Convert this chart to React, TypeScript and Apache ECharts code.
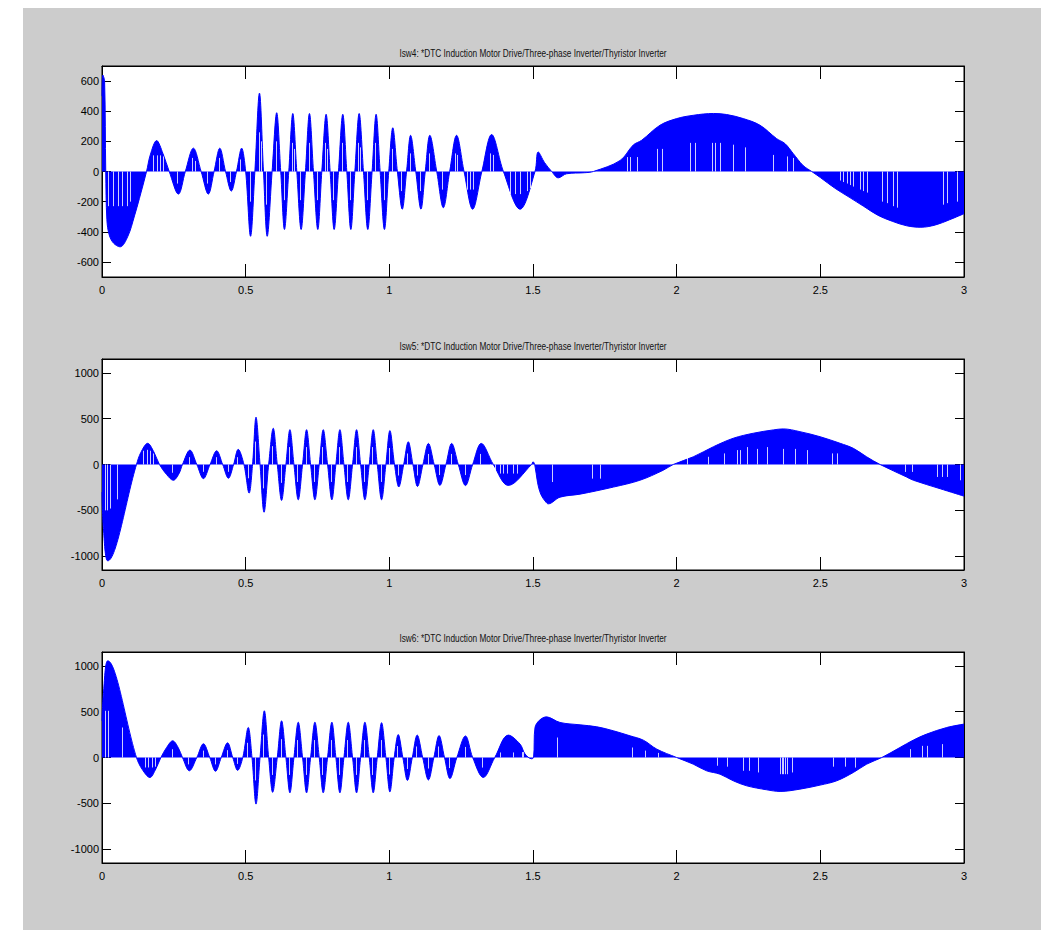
import React, { useEffect, useRef } from "react";
import * as echarts from "echarts";

const titles = [
  "Isw4: *DTC Induction Motor Drive/Three-phase Inverter/Thyristor Inverter",
  "Isw5: *DTC Induction Motor Drive/Three-phase Inverter/Thyristor Inverter",
  "Isw6: *DTC Induction Motor Drive/Three-phase Inverter/Thyristor Inverter",
];

const xTicks = [0, 0.5, 1, 1.5, 2, 2.5, 3];
const yTicks4 = [-600, -400, -200, 0, 200, 400, 600];
const yTicks56 = [-1000, -500, 0, 500, 1000];
const yRange4 = [-700, 700];
const yRange56 = [-1150, 1150];

// envelope of switched current Isw4 [time s, current A]
const isw4: [number, number][] = [
  [0, 500], [0.003, 640], [0.009, 600], [0.013, 0], [0.017, -320], [0.025, -420], [0.04, -475],
  [0.063, -500], [0.09, -430], [0.113, -295], [0.13, -180], [0.155, 0],
  [0.168, 110], [0.19, 205], [0.212, 120], [0.234, 0],
  [0.266, -150], [0.29, 0], [0.318, 155], [0.345, 0], [0.37, -150], [0.39, 0],
  [0.41, 155], [0.43, 0], [0.45, -130], [0.468, 0], [0.486, 155], [0.5, 0],
  [0.517, -430], [0.532, 0], [0.548, 520], [0.562, 0], [0.575, -430], [0.592, 0],
  [0.608, 390], [0.622, 0], [0.635, -385], [0.65, 0], [0.664, 385], [0.678, 0],
  [0.693, -385], [0.708, 0], [0.722, 385], [0.736, 0], [0.751, -385], [0.765, 0],
  [0.78, 380], [0.794, 0], [0.808, -385], [0.823, 0], [0.838, 380], [0.852, 0],
  [0.866, -385], [0.88, 0], [0.895, 385], [0.91, 0], [0.925, -385], [0.94, 0],
  [0.954, 380], [0.968, 0], [0.983, -385], [0.998, 0], [1.012, 290], [1.028, 0],
  [1.045, -250], [1.06, 0], [1.074, 240], [1.092, 0], [1.11, -250], [1.125, 0],
  [1.141, 240], [1.165, 0], [1.188, -240], [1.21, 0], [1.234, 240], [1.26, 0],
  [1.29, -250], [1.322, 0], [1.356, 245], [1.397, 0], [1.455, -250], [1.507, 0],
  [1.518, 130], [1.54, 60], [1.565, 0], [1.588, -42], [1.617, -15], [1.68, -8],
  [1.71, 0], [1.803, 73], [1.849, 176], [1.878, 207], [1.942, 307], [2.0, 351],
  [2.058, 373], [2.128, 385], [2.174, 378], [2.232, 351], [2.29, 307], [2.348, 218],
  [2.377, 185], [2.406, 118], [2.44, 40], [2.47, 0], [2.5, -40], [2.55, -110],
  [2.6, -170], [2.65, -230], [2.7, -290], [2.75, -330], [2.8, -360], [2.85, -370],
  [2.9, -355], [2.95, -320], [3.0, -280],
];

// envelope of switched current Isw5
const isw5: [number, number][] = [
  [0, -300], [0.005, -700], [0.02, -1050], [0.12, 0],
  [0.135, 130], [0.159, 231], [0.18, 140], [0.2, 0],
  [0.225, -110], [0.248, -172], [0.268, -100], [0.28, 0],
  [0.306, 157], [0.33, 0], [0.353, -154], [0.376, 0], [0.399, 150], [0.42, 0],
  [0.44, -150], [0.458, 0], [0.474, 165], [0.494, 0], [0.512, -312], [0.524, 0],
  [0.536, 516], [0.55, 0], [0.564, -520], [0.58, 0], [0.596, 395], [0.61, 0],
  [0.625, -392], [0.64, 0], [0.654, 380], [0.668, 0], [0.683, -385], [0.698, 0],
  [0.712, 380], [0.726, 0], [0.741, -385], [0.756, 0], [0.77, 380], [0.785, 0],
  [0.8, -385], [0.814, 0], [0.828, 380], [0.842, 0], [0.857, -385], [0.872, 0],
  [0.886, 380], [0.9, 0], [0.915, -385], [0.93, 0], [0.944, 380], [0.958, 0],
  [0.973, -385], [0.988, 0], [1.002, 370], [1.018, 0], [1.033, -245], [1.05, 0],
  [1.066, 248], [1.082, 0], [1.098, -240], [1.117, 0], [1.136, 230], [1.156, 0],
  [1.176, -228], [1.197, 0], [1.217, 230], [1.24, 0], [1.265, -230], [1.29, 0],
  [1.32, 230], [1.362, 0], [1.414, -228], [1.495, 0], [1.5, 30], [1.506, 0],
  [1.516, -200], [1.528, -330], [1.545, -410], [1.553, -429], [1.594, -356],
  [1.664, -323], [1.78, -246], [1.872, -172], [1.953, -63], [1.988, 0],
  [2.058, 84], [2.128, 194], [2.197, 286], [2.267, 341], [2.336, 377], [2.371, 388],
  [2.429, 358], [2.499, 303], [2.569, 231], [2.615, 176], [2.661, 84], [2.708, 0],
  [2.8, -136], [2.824, -172], [2.917, -264], [3.0, -345],
];

// envelope of switched current Isw6
const isw6: [number, number][] = [
  [0, 400], [0.005, 700], [0.02, 1054], [0.12, 0],
  [0.14, -130], [0.167, -218], [0.185, -140], [0.205, 0],
  [0.225, 110], [0.246, 182], [0.265, 110], [0.28, 0],
  [0.304, -145], [0.33, 0], [0.353, 150], [0.375, 0], [0.395, -150], [0.415, 0],
  [0.437, 160], [0.455, 0], [0.472, -140], [0.49, 0], [0.509, 327], [0.522, 0],
  [0.536, -508], [0.55, 0], [0.565, 509], [0.58, 0], [0.594, -380], [0.61, 0],
  [0.625, 400], [0.64, 0], [0.654, -385], [0.668, 0], [0.683, 385], [0.698, 0],
  [0.712, -385], [0.726, 0], [0.741, 385], [0.756, 0], [0.77, -385], [0.785, 0],
  [0.8, 385], [0.814, 0], [0.828, -385], [0.842, 0], [0.857, 385], [0.872, 0],
  [0.886, -385], [0.9, 0], [0.915, 385], [0.93, 0], [0.944, -385], [0.958, 0],
  [0.973, 380], [0.988, 0], [1.002, -375], [1.017, 0], [1.031, 250], [1.047, 0],
  [1.063, -250], [1.08, 0], [1.097, 245], [1.116, 0], [1.136, -245], [1.155, 0],
  [1.173, 240], [1.192, 0], [1.211, -230], [1.235, 0], [1.265, 235], [1.29, 0],
  [1.327, -218], [1.367, 0], [1.414, 244], [1.455, 146], [1.472, 40], [1.495, -14],
  [1.502, 0], [1.507, 327], [1.547, 443], [1.594, 382], [1.664, 356], [1.722, 335],
  [1.78, 291], [1.838, 236], [1.884, 189], [1.931, 91], [2.0, 0],
  [2.058, -73], [2.104, -145], [2.151, -182], [2.197, -254], [2.244, -309],
  [2.313, -352], [2.36, -370], [2.429, -345], [2.499, -301], [2.557, -254],
  [2.615, -163], [2.661, -73], [2.714, 0], [2.777, 109], [2.824, 190], [2.87, 255],
  [2.94, 327], [3.0, 364],
];

// switching gaps (current briefly zero) seen as thin white lines [time s, reach A]
const gaps4: [number, number][] = [
  [0.022, -230], [0.039, -230], [0.057, -230], [0.068, -230], [0.086, -230], [0.097, -200],
  [0.179, 107], [0.19, 107], [0.202, 107], [0.214, 100],
  [0.262, -80], [0.314, 90], [0.322, 70], [0.366, -80], [0.406, 90], [0.447, -70],
  [0.482, 80], [0.514, -200], [0.545, 260], [0.552, 200], [0.572, -220], [0.605, 200],
  [0.632, -190], [0.661, 190], [0.667, 150], [0.69, -190], [0.719, 190], [0.748, -190],
  [0.777, 190], [0.783, 150], [0.805, -190], [0.835, 190], [0.863, -190], [0.892, 190],
  [0.898, 160], [0.922, -190], [0.951, 190], [0.98, -190], [1.009, 150], [1.042, -130],
  [1.071, 120], [1.107, -130], [1.138, 120], [1.185, -120], [1.23, 120], [1.237, 110],
  [1.269, -120], [1.281, -120], [1.292, -120], [1.35, 120], [1.36, 110],
  [1.42, -150], [1.437, -150], [1.455, -150], [1.478, -130], [1.49, -110],
  [1.826, 96], [1.838, 96], [1.861, 96], [1.93, 150], [1.948, 150], [2.047, 190],
  [2.064, 190], [2.122, 190], [2.133, 190], [2.151, 190], [2.197, 178], [2.238, 160],
  [2.336, 110], [2.383, 100], [2.406, 90],
  [2.568, -60], [2.58, -70], [2.592, -80], [2.603, -90], [2.615, -100], [2.638, -120],
  [2.65, -130], [2.661, -140], [2.714, -200], [2.731, -210], [2.754, -230], [2.766, -240],
  [2.928, -220], [2.94, -210], [2.974, -200],
];

const gaps5: [number, number][] = [
  [0.01, -500], [0.016, -500], [0.028, -480], [0.051, -380],
  [0.144, 150], [0.156, 160], [0.167, 150], [0.179, 120], [0.245, -90], [0.303, 80],
  [0.35, -80], [0.396, 80], [0.437, -80], [0.471, 80], [0.509, -150], [0.533, 250],
  [0.561, -260], [0.593, 200], [0.622, -200], [0.651, 190], [0.68, -190], [0.709, 190],
  [0.738, -190], [0.767, 190], [0.797, -190], [0.825, 190], [0.854, -190], [0.883, 190],
  [0.912, -190], [0.941, 190], [0.97, -190], [0.999, 180], [1.03, -120], [1.063, 120],
  [1.095, -120], [1.133, 115], [1.173, -115], [1.214, 115], [1.262, -115], [1.317, 115],
  [1.35, -99], [1.368, -99], [1.385, -99], [1.397, -99], [1.408, -99], [1.432, -99], [1.443, -99],
  [1.565, -191], [1.704, -154], [1.733, -154],
  [2.035, 84], [2.11, 84], [2.163, 121], [2.209, 157], [2.221, 157], [2.244, 190],
  [2.279, 170], [2.313, 190], [2.371, 170], [2.412, 170], [2.452, 157], [2.539, 121],
  [2.557, 121],
  [2.795, -81], [2.818, -81], [2.905, -136], [2.922, -136], [2.94, -136], [2.986, -172],
];

const gaps6: [number, number][] = [
  [0.01, 509], [0.022, 509], [0.068, 327],
  [0.15, -109], [0.161, -109], [0.173, -109], [0.184, -100],
  [0.243, 90], [0.301, -75], [0.35, 75], [0.392, -75], [0.434, 80], [0.469, -70],
  [0.506, 160], [0.533, -250], [0.562, 250], [0.591, -190], [0.622, 200], [0.651, -190],
  [0.68, 190], [0.709, -190], [0.738, 190], [0.767, -190], [0.797, 190], [0.825, -190],
  [0.854, 190], [0.883, -190], [0.912, 190], [0.941, -190], [0.97, 190], [0.999, -185],
  [1.028, 125], [1.06, -125], [1.094, 120], [1.133, -120], [1.17, 120], [1.208, -115],
  [1.262, 115], [1.324, -110],
  [1.385, 55], [1.432, 55], [1.46, 59], [1.466, 59],
  [1.583, 218], [1.844, 109], [1.89, 75], [1.936, 50],
  [2.139, -90], [2.174, -100], [2.232, -145], [2.25, -145], [2.284, -163], [2.36, -182],
  [2.365, -182], [2.371, -182], [2.377, -182], [2.383, -182], [2.4, -163], [2.545, -100],
  [2.585, -100], [2.62, -110],
  [2.812, 91], [2.853, 127], [2.87, 127], [2.922, 146],
];

const seriesData = [isw4, isw5, isw6];
const gapData = [gaps4, gaps5, gaps6];
const yRanges = [yRange4, yRange56, yRange56];
const yTickSets = [yTicks4, yTicks56, yTicks56];

export default function App() {
  const ref = useRef<HTMLDivElement>(null);
  useEffect(() => {
    if (!ref.current) return;
    const chart = echarts.init(ref.current, null, { renderer: "svg" });
    const font = "'Liberation Sans Narrow', 'Arial Narrow', 'Liberation Sans', Arial, sans-serif";
    const plotLeft = 102;
    const plotW = 862;
    const plotH = 211;
    const tops = [66, 359, 652];
    const titleY = [53, 346, 638];

    const grids: any[] = [];
    const xAxes: any[] = [];
    const yAxes: any[] = [];
    const series: any[] = [];
    const graphics: any[] = [
      {
        type: "rect",
        z: -10,
        shape: { x: 23, y: 8, width: 1018, height: 922 },
        style: { fill: "#cccccc" },
      },
    ];

    for (let i = 0; i < 3; i++) {
      grids.push({
        left: plotLeft,
        top: tops[i],
        width: plotW,
        height: plotH,
        show: true,
        backgroundColor: "#ffffff",
        borderColor: "#000000",
        borderWidth: 1,
      });
      const xBase = {
        type: "value",
        gridIndex: i,
        min: xTicks[0],
        max: xTicks[xTicks.length - 1],
        interval: 0.5,
        splitLine: { show: false },
        axisLine: { show: true, onZero: false, lineStyle: { color: "#000", width: 1 } },
        axisTick: { show: true, inside: true, length: 13, lineStyle: { color: "#000" } },
      };
      xAxes.push({
        ...xBase,
        position: "bottom",
        axisLabel: {
          show: true,
          margin: 7,
          fontSize: 11,
          fontFamily: font,
          color: "#000",
          formatter: (v: number) => String(v),
        },
      });
      xAxes.push({ ...xBase, position: "top", axisLabel: { show: false } });

      const yBase = {
        type: "value",
        gridIndex: i,
        min: yRanges[i][0],
        max: yRanges[i][1],
        splitLine: { show: false },
        axisLine: { show: true, onZero: false, lineStyle: { color: "#000", width: 1 } },
        axisTick: {
          show: true,
          inside: true,
          length: 9,
          customValues: yTickSets[i],
          lineStyle: { color: "#000" },
        },
      };
      yAxes.push({
        ...yBase,
        position: "left",
        axisLabel: {
          show: true,
          margin: 3,
          fontSize: 11,
          fontFamily: font,
          color: "#000",
          customValues: yTickSets[i],
          formatter: (v: number) => String(v),
        },
      });
      yAxes.push({ ...yBase, position: "right", axisLabel: { show: false } });

      series.push({
        type: "line",
        xAxisIndex: i * 2,
        yAxisIndex: i * 2,
        data: seriesData[i],
        showSymbol: false,
        smooth: 0.35,
        lineStyle: { color: "#0000ff", width: 1 },
        itemStyle: { color: "#0000ff" },
        areaStyle: { color: "#0000ff", opacity: 1, origin: 0 },
        silent: true,
        z: 2,
      });

      series.push({
        type: "custom",
        xAxisIndex: i * 2,
        yAxisIndex: i * 2,
        data: gapData[i],
        silent: true,
        z: 3,
        renderItem: (params: any, api: any) => {
          const p0 = api.coord([api.value(0), 0]);
          const p1 = api.coord([api.value(0), api.value(1)]);
          const x = Math.round(p0[0]) + 0.5;
          return {
            type: "line",
            shape: { x1: x, y1: p0[1], x2: x, y2: p1[1] },
            style: { stroke: "#ffffff", lineWidth: 1, opacity: 0.8 },
          };
        },
      });

      graphics.push({
        type: "text",
        x: plotLeft + plotW / 2,
        y: titleY[i],
        scaleX: 0.72,
        style: {
          text: titles[i],
          fill: "#111",
          fontSize: 11.5,
          fontFamily: font,
          textAlign: "center",
          textVerticalAlign: "middle",
        },
      });
    }

    chart.setOption({
      animation: false,
      backgroundColor: "#ffffff",
      grid: grids,
      xAxis: xAxes,
      yAxis: yAxes,
      series,
      graphic: graphics,
    });
    return () => chart.dispose();
  }, []);

  return (
    <div
      ref={ref}
      style={{ position: "absolute", left: 0, top: 0, width: 1059, height: 930 }}
    />
  );
}
